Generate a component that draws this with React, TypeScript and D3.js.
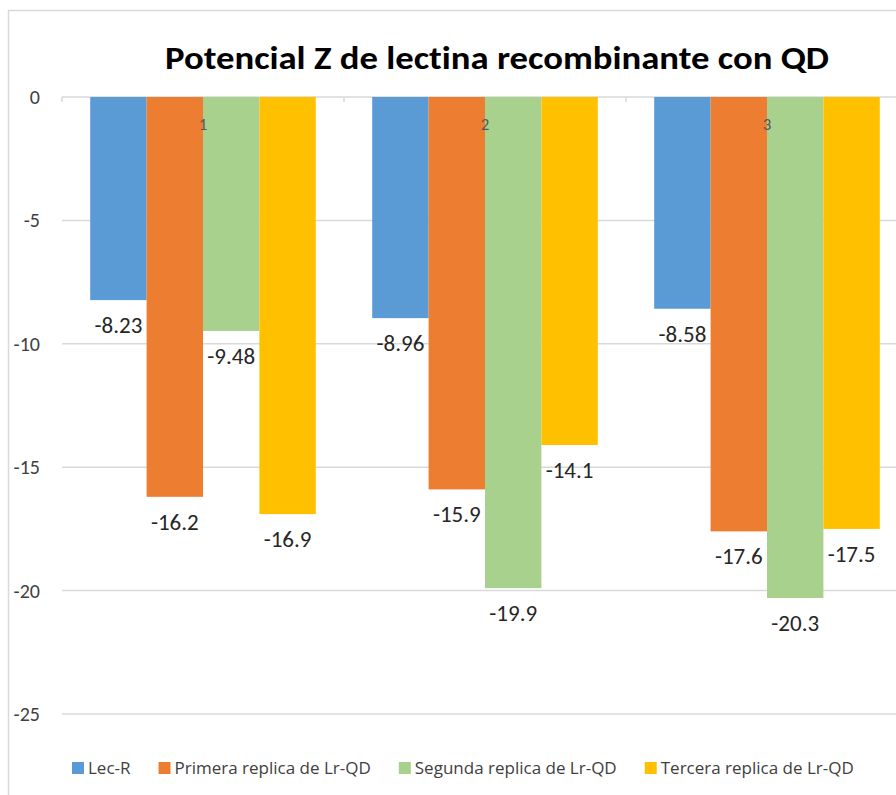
import React, { useRef, useEffect } from "react";
import * as d3 from "d3";

const categories = ["1", "2", "3"];
const seriesNames = [
  "Lec-R",
  "Primera replica de Lr-QD",
  "Segunda replica de Lr-QD",
  "Tercera replica de Lr-QD",
];
const lecR = [-8.23, -8.96, -8.58];
const primera = [-16.2, -15.9, -17.6];
const segunda = [-9.48, -19.9, -20.3];
const tercera = [-16.9, -14.1, -17.5];
const yTicks = [0, -5, -10, -15, -20, -25];
const colors = ["#5B9BD5", "#ED7D31", "#A9D18E", "#FFC000"];

export default function App() {
  const ref = useRef<SVGSVGElement>(null);

  useEffect(() => {
    const width = 896, height = 795;
    const font = "Carlito, Lato, 'Open Sans', sans-serif";
    const series = [lecR, primera, segunda, tercera];

    const svg = d3.select(ref.current);
    svg.selectAll("*").remove();
    svg.attr("width", width).attr("height", height);

    svg.append("rect").attr("width", width).attr("height", height).attr("fill", "#fff");
    // chart border (cropped at right/bottom)
    svg.append("path")
      .attr("d", `M8.5,${height} V10.5 H${width}`)
      .attr("fill", "none")
      .attr("stroke", "#d9d9d9")
      .attr("stroke-width", 1.5);

    const y = d3.scaleLinear().domain([-25, 0]).range([714, 97]);
    const x0 = d3.scaleBand().domain(categories).range([62, 908]);
    const x1 = d3.scaleBand()
      .domain(seriesNames)
      .range([0, x0.bandwidth()])
      .paddingOuter(0.5);

    svg.append("text")
      .attr("x", 497)
      .attr("y", 69)
      .attr("text-anchor", "middle")
      .attr("textLength", 664)
      .attr("lengthAdjust", "spacingAndGlyphs")
      .style("font-family", font)
      .style("font-weight", 700)
      .style("font-size", "32px")
      .style("font-variant-ligatures", "none")
      .attr("fill", "#000")
      .text("Potencial Z de lectina recombinante con QD");

    // gridlines
    svg.append("g")
      .selectAll("line")
      .data(yTicks)
      .enter()
      .append("line")
      .attr("x1", 62)
      .attr("x2", width)
      .attr("y1", d => y(d))
      .attr("y2", d => y(d))
      .attr("stroke", "#d9d9d9")
      .attr("stroke-width", 1.5);

    // category tick marks on zero line
    svg.append("g")
      .selectAll("line")
      .data(categories.map(c => x0(c)!).concat([908]))
      .enter()
      .append("line")
      .attr("x1", d => d)
      .attr("x2", d => d)
      .attr("y1", y(0))
      .attr("y2", y(0) + 5)
      .attr("stroke", "#d9d9d9")
      .attr("stroke-width", 1.5);

    svg.append("g")
      .selectAll("text")
      .data(yTicks)
      .enter()
      .append("text")
      .attr("x", 40)
      .attr("y", d => y(d))
      .attr("dy", "0.35em")
      .attr("text-anchor", "end")
      .style("font-family", font)
      .style("font-size", "20px")
      .attr("fill", "#404040")
      .text(d => d);

    const rows = categories.flatMap((c, i) =>
      seriesNames.map((s, j) => ({ cat: c, name: s, value: series[j][i], color: colors[j] }))
    );

    svg.append("g")
      .selectAll("rect")
      .data(rows)
      .enter()
      .append("rect")
      .attr("x", d => x0(d.cat)! + x1(d.name)!)
      .attr("y", y(0))
      .attr("width", x1.bandwidth())
      .attr("height", d => y(d.value) - y(0))
      .attr("fill", d => d.color);

    // category labels sit just under the zero line
    svg.append("g")
      .selectAll("text")
      .data(categories)
      .enter()
      .append("text")
      .attr("x", d => x0(d)! + x0.bandwidth() / 2)
      .attr("y", 130)
      .attr("text-anchor", "middle")
      .style("font-family", font)
      .style("font-size", "17px")
      .attr("fill", "#595959")
      .text(d => d);

    svg.append("g")
      .selectAll("text")
      .data(rows)
      .enter()
      .append("text")
      .attr("x", d => x0(d.cat)! + x1(d.name)! + x1.bandwidth() / 2)
      .attr("y", d => y(d.value) + 25)
      .attr("dy", "0.35em")
      .attr("text-anchor", "middle")
      .style("font-family", font)
      .style("font-size", "23px")
      .attr("fill", "#262626")
      .text(d => d.value);

    // legend
    const legend = svg.append("g").attr("transform", "translate(72,768)");
    let lx = 0;
    seriesNames.forEach((name, i) => {
      const g = legend.append("g").attr("transform", `translate(${lx},0)`);
      g.append("rect")
        .attr("x", 0)
        .attr("y", -6)
        .attr("width", 12)
        .attr("height", 12)
        .attr("fill", colors[i]);
      const t = g.append("text")
        .attr("x", 16)
        .attr("y", 0)
        .attr("dy", "0.35em")
        .style("font-family", "'Open Sans', sans-serif")
        .style("font-size", "17px")
        .attr("fill", "#404040")
        .text(name);
      const w = (t.node() as SVGTextElement).getComputedTextLength();
      lx += 16 + w + 28;
    });
  }, []);

  return (
    <svg
      ref={ref}
      style={{ position: "absolute", left: 0, top: 0, display: "block" }}
    ></svg>
  );
}
